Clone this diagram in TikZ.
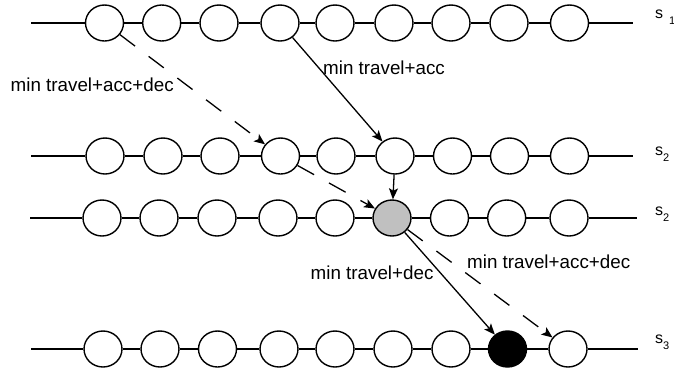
\documentclass[tikz,border=0pt]{standalone}
\usepackage{fontspec}
\setmainfont{Liberation Sans}
\usetikzlibrary{shapes.geometric,arrows.meta}

\definecolor{slotgray}{RGB}{192,192,192}

\tikzset{
  slot/.style={ellipse, draw, line width=1.4pt, fill=white,
               minimum width=38pt, minimum height=36pt, inner sep=0pt},
  busy/.style={slot, fill=slotgray},
  target/.style={slot, fill=black},
  rail/.style={line width=1.4pt},
  move/.style={line width=1.3pt, -{Stealth[length=11pt,width=9pt,inset=2.5pt]}},
  movedash/.style={move, dash pattern=on 19pt off 17pt},
  cost/.style={font=\fontsize{18.8}{22}\selectfont, anchor=base west, inner sep=0pt},
  tag/.style={font=\fontsize{16}{18}\selectfont, anchor=base west, inner sep=0pt},
}

% subscript placed by hand below the baseline of the stage letter
\newcommand\stagesub[1]{\raisebox{-6.5pt}{\fontsize{11}{12}\selectfont #1}}

\begin{document}
\begin{tikzpicture}[x=1pt,y=-1pt]
\useasboundingbox (0,0) rectangle (674,370);

% ---- stage s1 ----
\coordinate (a0) at (31,23);
\coordinate (a10) at (633,23);
\foreach \x/\s [count=\i] in {104.5/slot,161.7/slot,219/slot,280/slot,335/slot,394/slot,451/slot,509/slot,569.5/slot}
  \node[\s] (a\i) at (\x,23) {};
\foreach \i [evaluate=\i as \j using int(\i+1)] in {0,...,9}
  \draw[rail] (a\i) -- (a\j);

% ---- stage s2 (upper) ----
\coordinate (b0) at (31,156);
\coordinate (b10) at (633,156);
\foreach \x/\s [count=\i] in {105/slot,163/slot,220/slot,280.5/slot,336/slot,395/slot,452.5/slot,509.5/slot,569.5/slot}
  \node[\s] (b\i) at (\x,156) {};
\foreach \i [evaluate=\i as \j using int(\i+1)] in {0,...,9}
  \draw[rail] (b\i) -- (b\j);

% ---- stage s2 (lower) ----
\coordinate (c0) at (30,218);
\coordinate (c10) at (636.5,218);
\foreach \x/\s [count=\i] in {102/slot,159/slot,217/slot,278/slot,335/slot,392/busy,449.5/slot,506.7/slot,569/slot}
  \node[\s] (c\i) at (\x,218) {};
\foreach \i [evaluate=\i as \j using int(\i+1)] in {0,...,9}
  \draw[rail] (c\i) -- (c\j);

% ---- stage s3 ----
\coordinate (d0) at (31,349);
\coordinate (d10) at (637.5,349);
\foreach \x/\s [count=\i] in {103/slot,160/slot,217.5/slot,279/slot,335/slot,393/slot,451/slot,507.5/target,568/slot}
  \node[\s] (d\i) at (\x,349) {};
\foreach \i [evaluate=\i as \j using int(\i+1)] in {0,...,9}
  \draw[rail] (d\i) -- (d\j);

% ---- stage labels ----
\node[tag] (t1) at (655,18.3) {s\hspace{6pt}\stagesub{1}};
\node[tag] (t2) at (655,155) {s\stagesub{2}};
\node[tag] (t3) at (655,215) {s\stagesub{2}};
\node[tag] (t4) at (655,343.3) {s\stagesub{3}};

% ---- transitions ----
\draw[movedash] (a1) -- (b4);
\draw[move] (a4) -- (b6);
\draw[move] (b6) -- (c6);
\draw[movedash] (b4) -- (c6);
\draw[move] (c6) -- (d8);
\draw[movedash] (c6) -- (d9);

% ---- transition costs ----
\node[cost] (k1) at (10.5,91) {min travel+acc+dec};
\node[cost] (k2) at (323,74) {min travel+acc};
\node[cost] (k3) at (310.5,279) {min travel+dec};
\node[cost] (k4) at (467,268.3) {min travel+acc+dec};
\end{tikzpicture}
\end{document}
